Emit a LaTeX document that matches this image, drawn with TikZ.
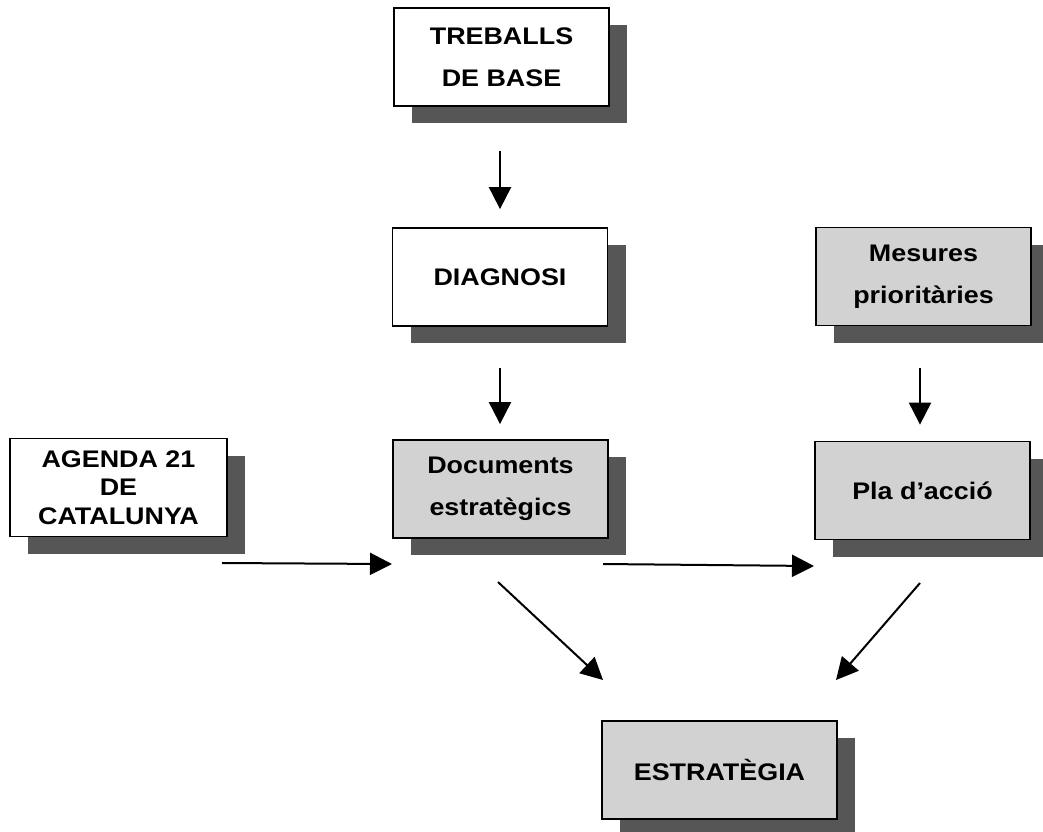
\documentclass[tikz,border=0pt]{standalone}
\usepackage{fontspec}
\setmainfont{Liberation Sans}
\newfontfamily\labfont[FakeStretch=1.12]{Liberation Sans}
\usetikzlibrary{arrows.meta,shadows}
\definecolor{boxgray}{HTML}{D2D2D2}
\definecolor{shadowgray}{HTML}{565656}
\begin{document}
\begin{tikzpicture}[x=1pt,y=-1pt,
  box/.style={draw=black, line width=1.8pt, fill=white, align=center,
    font=\labfont\bfseries\fontsize{24}{42}\selectfont,
    minimum width=215pt, minimum height=98pt, inner sep=0pt,
    drop shadow={shadow xshift=18pt, shadow yshift=-17pt, fill=shadowgray, opacity=1}},
  graybox/.style={box, fill=boxgray},
  arr/.style={line width=2pt, -{Triangle[length=22pt,width=22pt]}}]
\useasboundingbox (0,0) rectangle (1043,831);
\node[box] (treballs) at (501.5,57) {TREBALLS\\DE BASE};
\node[box] (diagnosi) at (500,277) {DIAGNOSI};
\node[graybox] (mesures) at (923.5,276.5) {Mesures\\priorit\`aries};
\node[box, minimum width=217pt, font=\labfont\bfseries\fontsize{24}{28.5}\selectfont] (agenda) at (118.5,487.5) {AGENDA 21\\DE\\CATALUNYA};
\node[graybox] (documents) at (500.5,489) {Documents\\estrat\`egics};
\node[graybox] (pla) at (922.5,490.5) {Pla d’acci\'o};
\node[graybox, minimum width=235pt] (estrategia) at (719.5,770) {ESTRAT\`EGIA};
% arrows
\draw[arr, shorten <=44pt, shorten >=18pt] (treballs.south -| 500,0) -- (diagnosi.north -| 500,0);
\draw[arr, shorten <=41pt, shorten >=15pt] (diagnosi.south -| 500,0) -- (documents.north -| 500,0);
\draw[arr, shorten <=42pt, shorten >=16pt] (mesures.south -| 920,0) -- (pla.north -| 920,0);
\coordinate (a1s) at (222,563);
\coordinate (a1e) at (392,564);
\coordinate (a2s) at (603,564);
\coordinate (a2e) at (814,566);
\coordinate (d1s) at (498,582);
\coordinate (d1e) at (603,680);
\coordinate (d2s) at (920,583);
\coordinate (d2e) at (836,680);
\draw[arr] (a1s) -- (a1e);
\draw[arr] (a2s) -- (a2e);
\draw[arr] (d1s) -- (d1e);
\draw[arr] (d2s) -- (d2e);
\end{tikzpicture}
\end{document}
